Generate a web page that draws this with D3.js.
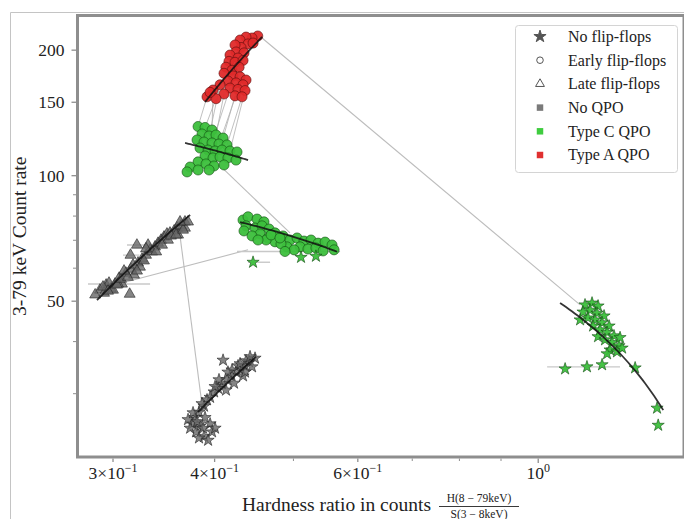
<!DOCTYPE html>
<html>
<head>
<meta charset="utf-8">
<script src="https://cdn.jsdelivr.net/npm/d3@7"></script>
<style>
  html, body { margin: 0; padding: 0; background: #fff; }
  svg { display: block; }
  text { font-family: "Liberation Serif", "DejaVu Serif", serif; fill: #222; }
</style>
</head>
<body>
<svg id="chart" width="684" height="519"></svg>
<script>
// ---- data: hardness ratio H(8-79 keV)/S(3-8 keV) vs 3-79 keV count rate ----

// Type A QPO, early flip-flops
const typeAEarly = [
  [0.452,216.3],[0.4447,213.9],[0.4372,215.0],[0.4299,211.5],[0.4397,207.0],[0.4311,203.0],
  [0.4238,205.8],[0.446,208.0],[0.425,198.0],[0.4347,197.0],[0.4178,194.7],[0.4274,191.5],
  [0.4166,188.0],[0.4238,187.0],[0.4335,189.0],[0.413,182.0],[0.4202,179.0],[0.4287,182.0],
  [0.4108,176.0],[0.4214,173.5],[0.4299,172.6],[0.4372,169.6],[0.4154,168.7],[0.425,166.9],
  [0.4335,165.2],[0.4062,165.2],[0.4178,162.2],[0.4274,161.0],[0.436,160.0],[0.3982,160.5],
  [0.4108,157.0],[0.4238,155.4],[0.4323,154.6],[0.3915,154.6],[0.4016,153.0],[0.3949,158.4]
];

// Type C QPO, early flip-flops
const typeCEarly = [
  [0.3817,131.2],[0.3893,130.5],[0.3971,128.7],[0.386,125.9],[0.3938,124.5],[0.4016,125.2],
  [0.4097,123.1],[0.3806,121.8],[0.3882,120.4],[0.3971,119.8],[0.405,119.1],[0.4143,118.5],
  [0.3838,116.5],[0.3927,115.2],[0.4005,114.6],[0.4085,115.2],[0.4178,114.6],[0.4262,114.0],
  [0.3893,111.5],[0.3982,110.3],[0.4062,110.9],[0.4154,110.3],[0.425,109.0],[0.3817,107.9],
  [0.3904,106.7],[0.3994,105.5],[0.4108,106.1],[0.3732,104.9],[0.3817,103.2],[0.37,102.1],
  [0.3938,103.2]
];

// Type C QPO, second early flip-flop group
const typeCEarly2 = [
  [0.4335,78.3],[0.4397,79.7],[0.4511,78.7],[0.46,77.5],[0.4372,75.8],[0.4485,74.9],
  [0.4575,75.8],[0.4667,74.5],[0.4347,73.7],[0.4746,72.9],[0.455,72.5],[0.4855,71.7],
  [0.4654,70.9],[0.4952,70.1],[0.4746,69.4],[0.5052,70.9],[0.5152,69.7],[0.5256,70.1],
  [0.5362,68.9],[0.5469,69.3],[0.5578,68.2],[0.5095,67.5],[0.521,66.7],[0.5329,67.1],
  [0.5438,66.0],[0.491,67.5],[0.501,66.4],[0.561,66.4],[0.4827,68.6],[0.4628,70.1],
  [0.4882,65.8],[0.4447,71.7],[0.4523,70.1],[0.4694,72.1],[0.4813,70.9]
];

// Type C QPO, no flip-flops, next to the second early group
const typeCNoFF2 = [[0.446,62.0],[0.5109,63.7],[0.5329,64.1]];

// No QPO, late flip-flops
const noQpoLate = [
  [0.2891,53.2],[0.2942,54.7],[0.2925,52.3],[0.2983,53.5],[0.2966,55.3],[0.3017,55.0],
  [0.3,53.2],[0.3052,56.8],[0.3077,55.0],[0.3112,58.4],[0.3157,59.7],[0.3184,57.8],
  [0.3145,52.0],[0.322,61.8],[0.3257,63.1],[0.3238,60.4],[0.3294,64.5],[0.3332,66.4],
  [0.3313,68.2],[0.3379,67.5],[0.3408,68.9],[0.3437,70.1],[0.3466,71.3],[0.3495,72.5],
  [0.3525,72.9],[0.3566,73.7],[0.3597,74.9],[0.3637,75.8],[0.3678,74.9],[0.3607,72.1],
  [0.3678,77.5],[0.3505,70.1],[0.2852,51.8],[0.3043,55.0],[0.321,68.2],[0.3152,64.5],
  [0.2916,54.1],[0.2958,52.9],[0.3034,54.7],[0.3069,56.5],[0.3129,57.1],[0.3095,59.1],
  [0.3175,61.1],[0.3211,59.1],[0.3275,62.5],[0.3351,65.7],[0.339,65.7],[0.3447,68.2],
  [0.3535,71.7],[0.3587,72.1],[0.3658,74.1],[0.371,77.5],[0.3627,77.5],[0.3294,66.8]
];

// No QPO, no flip-flops
const noQpoNoFF = [
  [0.4485,36.5],[0.4409,35.8],[0.436,35.0],[0.4447,34.8],[0.4311,34.2],[0.425,33.8],
  [0.4335,33.1],[0.419,33.1],[0.4143,32.4],[0.4226,31.8],[0.4085,31.7],[0.4039,30.9],
  [0.4131,30.6],[0.3994,30.3],[0.3949,29.4],[0.4097,36.1],[0.3882,28.0],[0.3827,27.1],
  [0.3784,26.3],[0.3893,26.3],[0.3752,25.4],[0.3838,25.1],[0.3949,25.4],[0.3795,24.3],
  [0.3882,23.7],[0.3971,24.3],[0.3732,24.8],[0.4274,35.0],
  [0.4372,36.0],[0.4299,35.4],[0.4202,34.2],[0.4154,33.8],[0.405,32.4],[0.4005,31.2],
  [0.3915,29.0],[0.386,28.4],[0.3763,27.0],[0.371,26.0],[0.3806,25.7],[0.3871,24.8],
  [0.4005,24.8],[0.3927,23.2],[0.3827,23.5],[0.436,33.8],[0.4422,36.8]
];

// Type C QPO, no flip-flops
const typeCNoFF = [
  [1.1417,49.0],[1.1646,49.5],[1.1846,48.7],[1.1353,47.1],[1.1581,47.6],[1.1812,46.8],
  [1.2049,46.1],[1.1515,45.6],[1.1745,45.1],[1.1982,44.4],[1.2222,43.6],[1.168,43.6],
  [1.1914,42.7],[1.2152,42.1],[1.2393,41.3],[1.1846,41.1],[1.2083,40.4],[1.2325,39.8],
  [1.2571,39.1],[1.2256,38.2],[1.25,37.8],[1.2681,38.6],[1.2152,37.4],[1.1259,45.1],
  [1.2607,40.9],[1.0791,34.4],[1.148,34.8],[1.1982,35.2],[1.3157,34.6],[1.40,27.7],
  [1.4045,25.2]
];

// flip-flop transitions: [index in typeAEarly, index in typeCEarly]
const flipLinks = [[33,0],[34,1],[29,2],[30,5],[31,6],[32,11],[28,16],[27,10],[25,4],[26,9]];

// path between consecutive observation groups
const trackSegments = [
  [[0.4575,213.9],[1.1259,49.0]],
  [[0.4085,104.5],[0.4952,72.9]],
  [[0.3043,55.0],[0.4397,66.4]],
  [[0.3607,77.8],[0.386,28.2]]
];

// horizontal uncertainties: [x, y, xLow, xHigh]
const xErrors = [
  [0.3043,55.0,0.2795,0.3332],
  [0.321,68.2,0.3121,0.3303],
  [0.3152,64.5,0.3086,0.3233],
  [0.4882,65.8,0.4262,0.5706],
  [0.446,62.0,0.4397,0.468],
  [1.148,34.8,1.0255,1.2607]
];

// linear fits (straight in linear space): [[x0,y0],[x1,y1]]
const fitLines = [
  [[0.3893,150.2],[0.4575,215.1]],
  [[0.3679,119.8],[0.4397,109.0]],
  [[0.4299,77.4],[0.5658,65.7]],
  [[0.2867,50.3],[0.3732,80.5]],
  [[0.3816,27.1],[0.4498,36.8]],
  [[1.0638,49.5],[1.4247,27.4]]
];

// axis ticks
const xLabelTicks = [[0.3,"3×10","−1"],[0.4,"4×10","−1"],[0.6,"6×10","−1"],[1.0,"10","0"]];
const xMinorTicks = [0.5,0.7,0.8,0.9];
const yLabelTicks = [50,100,150,200];
const yMinorTicks = [30,40,60,70,80,90];

const legendItems = [
  {label:"No flip-flops", shape:"star"},
  {label:"Early flip-flops", shape:"circle"},
  {label:"Late flip-flops", shape:"triangle"},
  {label:"No QPO", shape:"square", color:"#7a7a7a"},
  {label:"Type C QPO", shape:"square", color:"#3fcc3f"},
  {label:"Type A QPO", shape:"square", color:"#e03030"}
];

// ---- drawing ----
const svg = d3.select("#chart");
const plot = {left:77.5, right:684, top:15.5, bottom:457};

const x = d3.scaleLog().domain([0.2713, 1.511]).range([plot.left, plot.right]);
const y = d3.scaleLog().domain([21.15, 242.2]).range([plot.bottom, plot.top]);

// outer frame
svg.append("path")
  .attr("d", `M10.5,519 V12.5 H684`)
  .attr("fill","none").attr("stroke","#c4c4c4").attr("stroke-width",1);

const clipId = "plotclip";
svg.append("clipPath").attr("id", clipId).append("rect")
  .attr("x", plot.left).attr("y", plot.top)
  .attr("width", plot.right - plot.left).attr("height", plot.bottom - plot.top);

const g = svg.append("g").attr("clip-path", `url(#${clipId})`);

const line = d3.line().x(d => x(d[0])).y(d => y(d[1]));

// observation track
g.selectAll(".track").data(trackSegments).join("path")
  .attr("d", line).attr("fill","none")
  .attr("stroke","#bdbdbd").attr("stroke-width",1.1);

// error bars
g.selectAll(".xerr").data(xErrors).join("line")
  .attr("x1", d => x(d[2])).attr("x2", d => x(d[3]))
  .attr("y1", d => y(d[1])).attr("y2", d => y(d[1]))
  .attr("stroke","#c8c8c8").attr("stroke-width",1.4);

// flip-flop transition links
g.selectAll(".flip").data(flipLinks).join("line")
  .attr("x1", d => x(typeAEarly[d[0]][0])).attr("y1", d => y(typeAEarly[d[0]][1]))
  .attr("x2", d => x(typeCEarly[d[1]][0])).attr("y2", d => y(typeCEarly[d[1]][1]))
  .attr("stroke","#b0b0b0").attr("stroke-width",0.8);

const sym = {
  star: d3.symbol().type(d3.symbolStar).size(46),
  circle: d3.symbol().type(d3.symbolCircle).size(80),
  triangle: d3.symbol().type(d3.symbolTriangle).size(52),
  square: d3.symbol().type(d3.symbolSquare).size(42)
};

const styles = {
  gray: {fill:"#666", stroke:"#222", op:0.8},
  green: {fill:"#3cbf3c", stroke:"#124d12", op:0.95},
  red: {fill:"#e02a2a", stroke:"#5a0c0c", op:0.95}
};

function drawGroup(data, shape, style) {
  g.append("g").selectAll("path").data(data).join("path")
    .attr("transform", d => `translate(${x(d[0])},${y(d[1])})`)
    .attr("d", sym[shape]())
    .attr("fill", styles[style].fill)
    .attr("fill-opacity", styles[style].op)
    .attr("stroke", styles[style].stroke)
    .attr("stroke-width", 0.6);
}

drawGroup(noQpoLate, "triangle", "gray");
drawGroup(noQpoNoFF, "star", "gray");
drawGroup(typeCEarly2, "circle", "green");
drawGroup(typeCNoFF2, "star", "green");
drawGroup(typeCNoFF, "star", "green");
drawGroup(typeCEarly, "circle", "green");
drawGroup(typeAEarly, "circle", "red");

// fit lines: straight in linear space, sampled so they follow the log axes
g.selectAll(".fit").data(fitLines).join("path")
  .attr("d", d => {
    const pts = d3.range(0, 41).map(i => {
      const t = i / 40;
      return [d[0][0] + (d[1][0]-d[0][0])*t, d[0][1] + (d[1][1]-d[0][1])*t];
    });
    return line(pts);
  })
  .attr("fill","none").attr("stroke","#111").attr("stroke-width",1.8).attr("stroke-opacity",0.85);

// axes frame
const spine = "#8e8e8e";
svg.append("rect")
  .attr("x", plot.left).attr("y", plot.top)
  .attr("width", plot.right - plot.left).attr("height", plot.bottom - plot.top)
  .attr("fill","none").attr("stroke", spine).attr("stroke-width", 3);

// y ticks
svg.selectAll(".ytick").data(yLabelTicks).join("line")
  .attr("x1", plot.left - 1.5).attr("x2", plot.left - 6)
  .attr("y1", d => y(d)).attr("y2", d => y(d))
  .attr("stroke", spine).attr("stroke-width", 1.3);
svg.selectAll(".yminor").data(yMinorTicks).join("line")
  .attr("x1", plot.left - 1.5).attr("x2", plot.left - 4.5)
  .attr("y1", d => y(d)).attr("y2", d => y(d))
  .attr("stroke", spine).attr("stroke-width", 1);
svg.selectAll(".ylab").data(yLabelTicks).join("text")
  .attr("x", plot.left - 13).attr("y", d => y(d))
  .attr("dy", "0.34em").attr("text-anchor","end")
  .attr("font-size", 17.5).text(d => d);

// x ticks
svg.selectAll(".xtick").data(xLabelTicks).join("line")
  .attr("x1", d => x(d[0])).attr("x2", d => x(d[0]))
  .attr("y1", plot.bottom + 1.5).attr("y2", d => plot.bottom + (d[0] === 1 ? 6 : 5))
  .attr("stroke", spine).attr("stroke-width", 1.3);
svg.selectAll(".xminor").data(xMinorTicks).join("line")
  .attr("x1", d => x(d)).attr("x2", d => x(d))
  .attr("y1", plot.bottom + 1.5).attr("y2", plot.bottom + 4)
  .attr("stroke", spine).attr("stroke-width", 1);
const xl = svg.selectAll(".xlab").data(xLabelTicks).join("text")
  .attr("x", d => x(d[0])).attr("y", plot.bottom + 22)
  .attr("text-anchor","middle").attr("font-size", 17.5);
xl.append("tspan").text(d => d[1]);
xl.append("tspan").attr("dy", -7).attr("font-size", 12).text(d => d[2]);

// axis titles
svg.append("text")
  .attr("transform", `translate(26,${(plot.top + plot.bottom)/2}) rotate(-90)`)
  .attr("text-anchor","middle").attr("font-size", 19.5)
  .text("3-79 keV Count rate");

svg.append("text")
  .attr("x", 242).attr("y", 511).attr("font-size", 19.5)
  .text("Hardness ratio in counts");
svg.append("text")
  .attr("x", 479).attr("y", 502).attr("text-anchor","middle").attr("font-size", 11.5)
  .text("H(8 − 79keV)");
svg.append("line")
  .attr("x1", 439).attr("x2", 519).attr("y1", 506.5).attr("y2", 506.5)
  .attr("stroke","#222").attr("stroke-width", 0.9);
svg.append("text")
  .attr("x", 479).attr("y", 518).attr("text-anchor","middle").attr("font-size", 11.5)
  .text("S(3 − 8keV)");

// legend
const lg = svg.append("g").attr("transform","translate(515,25)");
lg.append("rect").attr("x",0.5).attr("y",0.5).attr("width",162).attr("height",147).attr("rx",3)
  .attr("fill","#fff").attr("fill-opacity",0.9).attr("stroke","#d4d4d4");
const rows = lg.selectAll(".row").data(legendItems).join("g")
  .attr("transform", (d,i) => `translate(0,${11.5 + i*23.7})`);
rows.append("path")
  .attr("transform","translate(25,0)")
  .attr("d", d => d.shape === "square" ? sym.square() : d.shape === "star" ? sym.star() : d.shape === "circle" ? d3.symbol().type(d3.symbolCircle).size(34)() : d3.symbol().type(d3.symbolTriangle).size(34)())
  .attr("fill", d => d.shape === "square" ? d.color : d.shape === "star" ? "#555" : "#fff")
  .attr("stroke", d => d.shape === "square" ? "none" : "#555")
  .attr("stroke-width", 1);
rows.append("text").attr("x", 53).attr("dy","0.34em").attr("font-size", 16)
  .text(d => d.label);
</script>
</body>
</html>
